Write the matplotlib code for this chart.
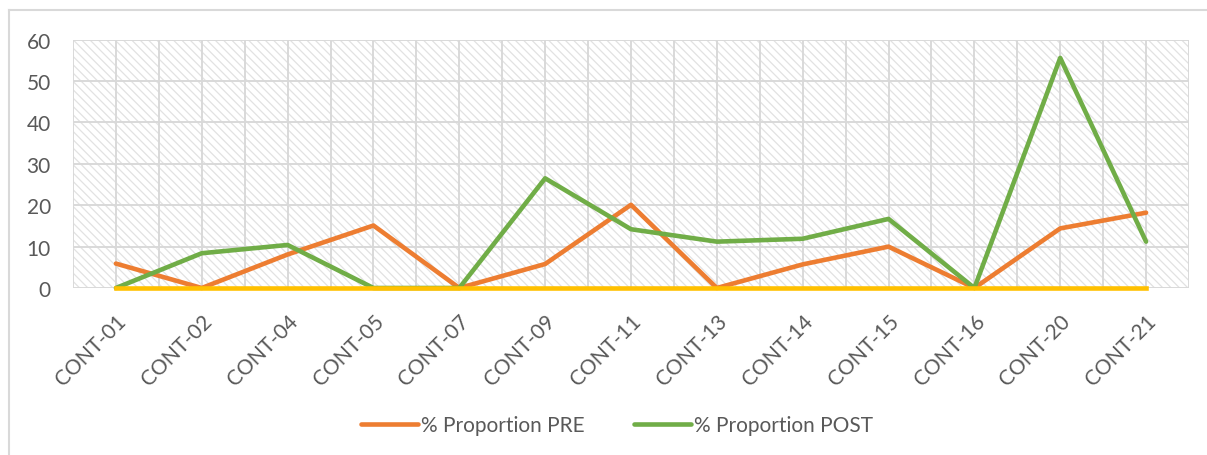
import matplotlib.pyplot as plt
from matplotlib.patches import Rectangle
from matplotlib.lines import Line2D

categories = ['CONT-01', 'CONT-02', 'CONT-04', 'CONT-05', 'CONT-07', 'CONT-09', 'CONT-11',
              'CONT-13', 'CONT-14', 'CONT-15', 'CONT-16', 'CONT-20', 'CONT-21']
pre = [5.9, 0, 8.1, 15.1, 0, 5.8, 20.1, 0, 5.7, 10.0, 0, 14.4, 18.2]
post = [0, 8.4, 10.4, 0, 0, 26.5, 14.2, 11.2, 11.9, 16.7, 0, 55.6, 11.2]
baseline = [0] * len(categories)
yticks = [0, 10, 20, 30, 40, 50, 60]

plt.rcParams['font.family'] = ['Lato', 'DejaVu Sans']
plt.rcParams['hatch.linewidth'] = 0.9
txt = '#595959'
grid = '#d9d9d9'

fig = plt.figure(figsize=(12.07, 4.56), dpi=100)
ax = fig.add_axes([73/1207, 1-289/456, (1189-73)/1207, (289-40.7)/456])

# hatched plot-area background
ax.add_patch(Rectangle((0, 0), 1, 1, transform=ax.transAxes, facecolor='white',
                       edgecolor='#e2e2e2', hatch='\\\\\\\\', lw=0, zorder=0))

x = list(range(len(categories)))
for v in [i * 0.5 - 0.5 for i in range(2 * len(categories) + 1)]:
    ax.axvline(v, color=grid, lw=1.4, zorder=1)
for v in yticks:
    ax.axhline(v, color=grid, lw=1.4, zorder=1)

l1, = ax.plot(x, pre, color='#ED7D31', lw=3.3, solid_capstyle='round', zorder=3, clip_on=False)
l2, = ax.plot(x, post, color='#70AD47', lw=3.3, solid_capstyle='round', zorder=4, clip_on=False)
ax.plot(x, baseline, color='#FFC000', lw=3.3, zorder=5, clip_on=False)

ax.set_xlim(-0.5, len(categories) - 0.5)
ax.set_ylim(0, 60)
ax.set_yticks(yticks)
ax.set_xticks(x)
ax.set_xticklabels(categories, rotation=45, ha='right', va='top', rotation_mode='anchor')
ax.tick_params(axis='both', length=0, labelsize=15, labelcolor=txt)
ax.tick_params(axis='y', pad=16)
ax.tick_params(axis='x', pad=16)
for s in ax.spines.values():
    s.set_visible(False)

leg = fig.legend([l1, l2], ['% Proportion PRE', '% Proportion POST'], loc='center',
                 bbox_to_anchor=(617/1207, 1-426/456), ncol=2, frameon=False,
                 fontsize=15, handlelength=2.7, handletextpad=0.15, columnspacing=2.4)
for t in leg.get_texts():
    t.set_color(txt)

# chart outline
fig.add_artist(Line2D([9/1207, 9/1207], [0, 1-11/456], color=grid, lw=1.5))
fig.add_artist(Line2D([9/1207, 1], [1-11/456, 1-11/456], color=grid, lw=1.5))

fig.savefig('out.png', dpi=100)
